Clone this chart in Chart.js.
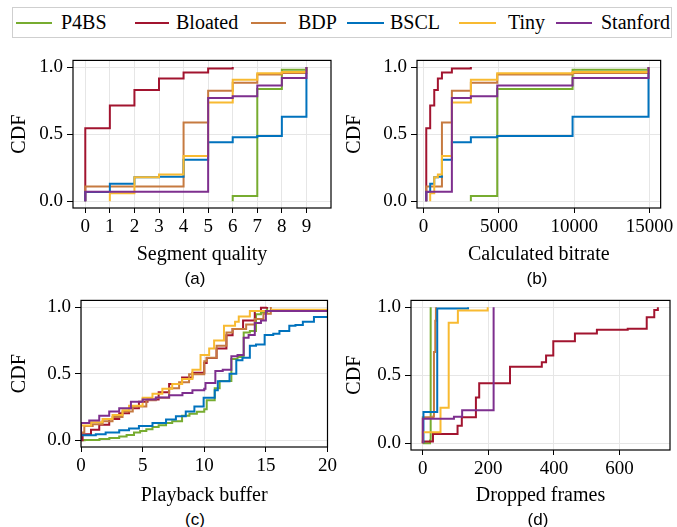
<!DOCTYPE html>
<html>
<head>
<meta charset="utf-8">
<script src="https://cdn.jsdelivr.net/npm/chart.js@4.4.1/dist/chart.umd.min.js"></script>
<style>
  body { margin: 0; background: #fff; }
  #page { position: relative; width: 677px; height: 527px; overflow: hidden; background: #fff; font-family: 'Liberation Serif', serif; color: #000; }
  canvas { position: absolute; }
  #legendBox { position: absolute; left: 12px; top: 7px; width: 660px; height: 31px; border: 1px solid #cfcfcf; box-sizing: border-box; }
  .key { position: absolute; top: 21.5px; height: 2px; }
  .name { position: absolute; top: 10px; font-size: 20px; line-height: 24px; white-space: nowrap; }
  .panel { position: absolute; font-family: 'Liberation Sans', sans-serif; font-size: 17px; line-height: 20px; transform: translateX(-50%); }
</style>
</head>
<body>
<div id="page">
  <div id="legendBox"></div>
  <div id="legend"></div>
  <canvas id="chartA"></canvas>
  <canvas id="chartB"></canvas>
  <canvas id="chartC"></canvas>
  <canvas id="chartD"></canvas>
  <div class="panel" style="left:195px; top:269px;">(a)</div>
  <div class="panel" style="left:537px; top:269px;">(b)</div>
  <div class="panel" style="left:195px; top:510px;">(c)</div>
  <div class="panel" style="left:538px; top:510px;">(d)</div>
</div>
<script>
const seriesNames = ['P4BS', 'Bloated', 'BDP', 'BSCL', 'Tiny', 'Stanford'];
const seriesColors = ['#77AC30', '#A2142F', '#C67A40', '#0072BD', '#F8BA31', '#7E2F8E'];

// (a) segment quality, points are [quality, cdf]
const qualityP4BS = [[6, 0], [6, 0.04], [7, 0.836], [8, 0.98], [9, 1.0]];
const qualityBloated = [[0, 0], [0, 0.545], [1, 0.713], [2, 0.83], [3, 0.916], [4, 0.959], [5, 0.99], [6, 1.0]];
const qualityBDP = [[0, 0], [0, 0.11], [4, 0.588], [5, 0.824], [6, 0.884], [7, 0.945], [8, 0.957], [9, 1.0]];
const qualityBSCL = [[0, 0], [0, 0.07], [1, 0.13], [2, 0.18], [3, 0.183], [4, 0.31], [5, 0.44], [6, 0.477], [7, 0.487], [8, 0.63], [9, 1.0]];
const qualityTiny = [[1, 0], [1, 0.06], [2, 0.18], [3, 0.2], [4, 0.337], [5, 0.737], [6, 0.906], [7, 0.954], [8, 0.964], [9, 1.0]];
const qualityStanford = [[0, 0], [0, 0.072], [5, 0.769], [6, 0.783], [7, 0.863], [8, 0.918], [9, 1.0]];

// (b) bitrate of each quality level (same sessions as (a))
const bitrateLevels = [180, 440, 710, 950, 1220, 1880, 3140, 4890, 9890, 14930];

// (c) playback buffer, points are [seconds, cdf]
const bufferP4BS = [[0, 0], [0.3, 0.003], [1.5, 0.01], [2.3, 0.017], [3.1, 0.029], [3.7, 0.04], [4.3, 0.058], [4.8, 0.07], [5.3, 0.083], [5.8, 0.1], [6.3, 0.114], [6.9, 0.13], [7.4, 0.144], [8.2, 0.185], [8.8, 0.2], [9.4, 0.215], [10.0, 0.234], [10.2, 0.3], [10.85, 0.39], [11.25, 0.445], [12.2, 0.61], [12.7, 0.625], [13.2, 0.81], [13.7, 0.82], [14.2, 0.946], [14.6, 0.96], [15.1, 1.0]];
const bufferBloated = [[0, 0], [0.13, 0.045], [0.81, 0.08], [1.48, 0.117], [2.29, 0.16], [3.1, 0.204], [3.9, 0.24], [4.7, 0.289], [5.4, 0.306], [6.3, 0.36], [7.15, 0.423], [8.2, 0.472], [9.04, 0.508], [10.0, 0.58], [10.2, 0.617], [11.0, 0.69], [11.8, 0.788], [12.3, 0.836], [13.15, 0.9], [14.1, 0.971], [14.6, 0.995], [15.1, 1.0]];
const bufferBDP = [[0, 0], [0, 0.058], [0.27, 0.107], [0.95, 0.12], [1.75, 0.144], [2.56, 0.175], [3.37, 0.216], [4.2, 0.253], [5.3, 0.3], [6.07, 0.32], [7.15, 0.39], [7.96, 0.435], [8.77, 0.496], [10.0, 0.594], [10.2, 0.62], [11.0, 0.71], [11.8, 0.81], [12.3, 0.836], [13.4, 0.87], [14.1, 0.91], [14.8, 0.95], [15.4, 1.0]];
const bufferBSCL = [[0, 0], [0, 0.039], [1.2, 0.046], [2.0, 0.058], [3.1, 0.075], [3.9, 0.088], [4.7, 0.107], [5.8, 0.131], [6.9, 0.156], [7.7, 0.18], [8.5, 0.216], [9.2, 0.253], [9.95, 0.32], [10.85, 0.375], [11.1, 0.443], [12.05, 0.5], [12.6, 0.6], [13.1, 0.62], [13.7, 0.71], [14.2, 0.72], [14.9, 0.79], [15.6, 0.8], [16.1, 0.82], [16.9, 0.86], [17.4, 0.865], [18.0, 0.89], [18.9, 0.925], [20, 0.93]];
const bufferTiny = [[0, 0], [0, 0.112], [0.81, 0.136], [1.75, 0.16], [2.56, 0.19], [3.37, 0.226], [3.9, 0.26], [5.0, 0.32], [5.8, 0.35], [6.6, 0.387], [7.4, 0.423], [8.2, 0.46], [9.04, 0.53], [9.7, 0.64], [10.4, 0.69], [10.8, 0.75], [11.6, 0.86], [12.5, 0.89], [12.8, 0.93], [13.7, 0.97], [15.5, 0.98], [20, 0.98]];
const bufferStanford = [[0, 0], [0, 0.131], [0.67, 0.148], [1.48, 0.185], [2.29, 0.216], [3.1, 0.24], [4.05, 0.289], [5.0, 0.306], [6.07, 0.321], [7.15, 0.338], [8.23, 0.355], [9.04, 0.375], [10.0, 0.387], [10.1, 0.43], [10.9, 0.52], [11.5, 0.53], [12.2, 0.63], [12.7, 0.64], [13.2, 0.77], [13.6, 0.79], [14.1, 0.88], [14.6, 0.9], [15.0, 0.97], [20, 0.97]];

// (d) dropped frames, points are [frames, cdf]
const framesP4BS = [[0, 0], [22, 0.02], [24, 1.0]];
const framesBloated = [[0, 0], [0, 0.012], [31, 0.068], [106, 0.129], [119, 0.19], [162, 0.336], [172, 0.44], [266, 0.562], [363, 0.596], [376, 0.645], [398, 0.75], [464, 0.806], [531, 0.835], [625, 0.842], [683, 0.927], [706, 0.98], [717, 1.0]];
const framesBDP = [[0, 0], [0, 0.19], [33, 0.2], [34, 0.67], [38, 0.9], [40, 1.0]];
const framesBSCL = [[2, 0], [2, 0.23], [44, 0.99], [138, 1.0]];
const framesTiny = [[0, 0], [0, 0.08], [54, 0.26], [79, 0.886], [107, 0.975], [198, 1.0]];
const framesStanford = [[0, 0], [0, 0.18], [95, 0.195], [120, 0.243], [216, 1.0]];

const qualityTicks = [0, 1, 2, 3, 4, 5, 6, 7, 8, 9];
const bitrateTicks = [0, 5000, 10000, 15000];
const bufferTicks = [0, 5, 10, 15, 20];
const framesTicks = [0, 200, 400, 600];
const cdfTicks = [0, 0.5, 1];

const qualitySeries = [qualityP4BS, qualityBloated, qualityBDP, qualityBSCL, qualityTiny, qualityStanford];
const bitrateSeries = qualitySeries.map(s => s.map(p => [bitrateLevels[p[0]], p[1]]));

// legend (html), positions measured on the reference
const legendKeys = [[16, 36, 61], [135, 34, 176], [251, 35, 298], [347, 37, 390], [459, 37, 508], [556, 36, 601]];
const legendEl = document.getElementById('legend');
seriesNames.forEach((name, i) => {
  const [lx, lw, tx] = legendKeys[i];
  const key = document.createElement('div');
  key.className = 'key';
  key.style.left = lx + 'px';
  key.style.width = lw + 'px';
  key.style.background = seriesColors[i];
  legendEl.appendChild(key);
  const label = document.createElement('span');
  label.className = 'name';
  label.style.left = tx + 'px';
  label.textContent = name;
  legendEl.appendChild(label);
});

const framePlugin = {
  id: 'frame',
  afterDraw(chart) {
    const { ctx, chartArea: a } = chart;
    ctx.save();
    ctx.strokeStyle = '#000';
    ctx.lineWidth = 1.2;
    ctx.strokeRect(a.left, a.top, a.right - a.left, a.bottom - a.top);
    ctx.restore();
  }
};

const serif = { family: "'Liberation Serif', serif" };

function drawPanel(id, series, xTicks, xMin, xMax, xTitle, box) {
  const canvas = document.getElementById(id);
  canvas.width = box.w;
  canvas.height = box.h;
  canvas.style.left = box.x + 'px';
  canvas.style.top = box.y + 'px';

  new Chart(canvas, {
    type: 'line',
    data: {
      datasets: series.map((pts, i) => ({
        label: seriesNames[i],
        data: pts.map(p => ({ x: p[0], y: p[1] })),
        borderColor: seriesColors[i],
        borderWidth: 2,
        stepped: true,
        pointRadius: 0,
        fill: false,
        order: series.length - i
      }))
    },
    options: {
      responsive: false,
      animation: false,
      devicePixelRatio: 1,
      layout: { padding: { left: 0, top: box.padTop, right: box.padRight, bottom: 0 } },
      plugins: { legend: { display: false }, tooltip: { enabled: false } },
      scales: {
        x: {
          type: 'linear',
          min: xMin,
          max: xMax,
          afterBuildTicks: s => { s.ticks = xTicks.map(v => ({ value: v })); },
          afterFit: s => { s.height = box.xAxis; },
          ticks: { color: '#000', font: { ...serif, size: 19 }, padding: 3, maxRotation: 0, autoSkip: false, callback: v => String(v) },
          grid: { color: '#e6e6e6', lineWidth: 1, tickColor: '#000', tickLength: 5 },
          border: { display: false },
          title: { display: true, text: xTitle, color: '#000', font: { ...serif, size: 20 }, padding: { top: 0, bottom: 0 } }
        },
        y: {
          min: -0.05,
          max: 1.05,
          afterBuildTicks: s => { s.ticks = cdfTicks.map(v => ({ value: v })); },
          afterFit: s => { s.width = box.yAxis; },
          ticks: { color: '#000', font: { ...serif, size: 19 }, padding: 4, autoSkip: false, callback: v => v.toFixed(1) },
          grid: { color: '#e6e6e6', lineWidth: 1, tickColor: '#000', tickLength: 6 },
          border: { display: false },
          title: { display: true, text: 'CDF', color: '#000', font: { ...serif, size: 20 }, padding: { top: 8, bottom: 0 } }
        }
      }
    },
    plugins: [framePlugin]
  });
}

drawPanel('chartA', qualitySeries, qualityTicks, -0.5, 10, 'Segment quality',
  { x: 0, y: 45, w: 340, h: 222, padTop: 11, padRight: 9, yAxis: 73, xAxis: 59 });
drawPanel('chartB', bitrateSeries, bitrateTicks, -435, 15735, 'Calculated bitrate',
  { x: 335, y: 45, w: 342, h: 222, padTop: 11, padRight: 15, yAxis: 82, xAxis: 59 });
drawPanel('chartC', [bufferP4BS, bufferBloated, bufferBDP, bufferBSCL, bufferTiny, bufferStanford], bufferTicks, 0, 20, 'Playback buffer',
  { x: 0, y: 285, w: 340, h: 223, padTop: 11, padRight: 12, yAxis: 81, xAxis: 61 });
drawPanel('chartD', [framesP4BS, framesBloated, framesBDP, framesBSCL, framesTiny, framesStanford], framesTicks, -36, 754, 'Dropped frames',
  { x: 335, y: 285, w: 342, h: 223, padTop: 13, padRight: 7, yAxis: 76, xAxis: 58 });
</script>
</body>
</html>
